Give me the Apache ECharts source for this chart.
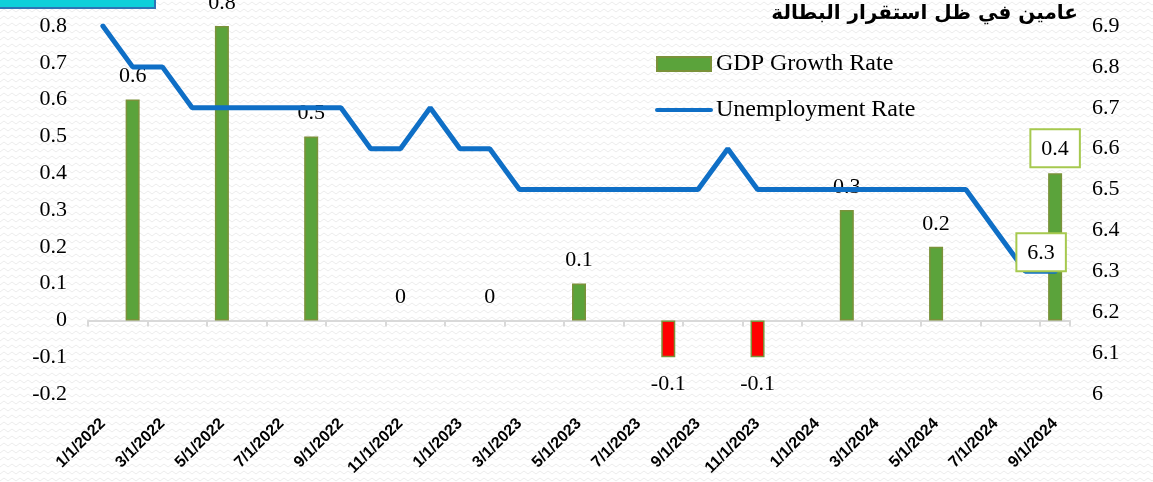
<!DOCTYPE html>
<html>
<head>
<meta charset="utf-8">
<script src="https://cdn.jsdelivr.net/npm/echarts@6/dist/echarts.min.js"></script>
<style>
  html, body { margin: 0; padding: 0; background: #fff; }
  #chart { width: 1153px; height: 482px; }
</style>
</head>
<body>
<div id="chart"></div>
<script>
// monthly categories (Excel date axis, labelled every 2 months)
const months = [
  '1/1/2022', '2/1/2022', '3/1/2022', '4/1/2022', '5/1/2022', '6/1/2022',
  '7/1/2022', '8/1/2022', '9/1/2022', '10/1/2022', '11/1/2022', '12/1/2022',
  '1/1/2023', '2/1/2023', '3/1/2023', '4/1/2023', '5/1/2023', '6/1/2023',
  '7/1/2023', '8/1/2023', '9/1/2023', '10/1/2023', '11/1/2023', '12/1/2023',
  '1/1/2024', '2/1/2024', '3/1/2024', '4/1/2024', '5/1/2024', '6/1/2024',
  '7/1/2024', '8/1/2024', '9/1/2024'
]

// quarterly GDP growth, null where there is no reading
const gdpGrowth = [
  null, 0.6, null, null, 0.8, null, null, 0.5, null, null, 0, null,
  null, 0, null, null, 0.1, null, null, -0.1, null, null, -0.1, null,
  null, 0.3, null, null, 0.2, null, null, null, 0.4
]

const unemployment = [
  6.9, 6.8, 6.8, 6.7, 6.7, 6.7, 6.7, 6.7, 6.7, 6.6, 6.6, 6.7,
  6.6, 6.6, 6.5, 6.5, 6.5, 6.5, 6.5, 6.5, 6.5, 6.6, 6.5, 6.5,
  6.5, 6.5, 6.5, 6.5, 6.5, 6.5, 6.4, 6.3, 6.3
]

const gdpTicks = [-0.2, -0.1, 0, 0.1, 0.2, 0.3, 0.4, 0.5, 0.6, 0.7, 0.8]
const unempTicks = [6, 6.1, 6.2, 6.3, 6.4, 6.5, 6.6, 6.7, 6.8, 6.9]

const title = 'عامين في ظل استقرار البطالة'
const gdpName = 'GDP Growth Rate'
const unempName = 'Unemployment Rate'

const serif = "'Liberation Serif', 'Times New Roman', serif"
const boxGreen = '#a6c94f'
const lineBlue = '#0f6fc6'

// faint zigzag paper texture
const makeTexture = () => {
  const c = document.createElement('canvas')
  c.width = 8
  c.height = 7
  const ctx = c.getContext('2d')
  ctx.fillStyle = '#ffffff'
  ctx.fillRect(0, 0, 8, 7)
  ctx.strokeStyle = '#ececec'
  ctx.lineWidth = 1
  ctx.beginPath()
  ctx.moveTo(0, 5)
  ctx.lineTo(4, 2)
  ctx.lineTo(8, 5)
  ctx.stroke()
  return c
}

const lastIdx = months.length - 1

const boxLabel = {
  color: '#000',
  fontFamily: serif,
  fontSize: 22,
  backgroundColor: '#fff',
  borderColor: boxGreen,
  borderWidth: 2,
  padding: [8, 10, 6, 10]
}

const gdpData = gdpGrowth.map((v, i) => {
  if (v === null) return '-'
  const neg = v < 0
  const item = {
    value: v,
    itemStyle: {
      color: neg ? '#ff0000' : '#5ba33b',
      borderWidth: v === 0 ? 0 : 1.5
    },
    label: { position: neg ? 'bottom' : 'top', distance: neg ? 16 : 12 }
  }
  if (i === lastIdx) {
    item.label = Object.assign({ position: 'top', distance: 7 }, boxLabel)
  }
  return item
})

const chart = echarts.init(document.getElementById('chart'))

const option = {
  backgroundColor: { image: makeTexture(), repeat: 'repeat' },
  animation: false,
  title: {
    text: title,
    right: 75,
    top: 4,
    padding: 0,
    textStyle: {
      fontFamily: "'DejaVu Sans', sans-serif",
      fontWeight: 'bold',
      fontSize: 20,
      color: '#000'
    }
  },
  graphic: [
    {
      type: 'rect',
      shape: { x: -2, y: -30, width: 157, height: 38 },
      style: { fill: '#0ed0da', stroke: '#2e75b6', lineWidth: 2 }
    }
  ],
  legend: {
    orient: 'vertical',
    left: 655,
    top: 52,
    padding: 0,
    itemWidth: 54,
    itemHeight: 14,
    itemGap: 22,
    textStyle: { fontFamily: serif, fontSize: 24, color: '#000' },
    data: [
      { name: gdpName, icon: 'rect' },
      {
        name: unempName,
        itemStyle: { opacity: 0 },
        lineStyle: { width: 4, cap: 'round', color: lineBlue }
      }
    ]
  },
  grid: { left: 88, right: 83, top: 26, bottom: 88 },
  xAxis: [
    {
      type: 'category',
      data: months,
      boundaryGap: true,
      axisLine: { onZero: true, onZeroAxisIndex: 0, lineStyle: { color: '#d9d9d9', width: 2 } },
      axisTick: { show: true, interval: 1, length: 6, lineStyle: { color: '#d9d9d9', width: 2 } },
      axisLabel: { show: false },
      splitLine: { show: false }
    },
    {
      type: 'category',
      data: months,
      position: 'bottom',
      boundaryGap: true,
      axisLine: { show: false, onZero: false },
      axisTick: { show: false },
      axisLabel: {
        interval: 1,
        rotate: 45,
        margin: 27,
        fontFamily: "'Liberation Sans', Arial, sans-serif",
        fontWeight: 'bold',
        fontSize: 16,
        color: '#000'
      },
      splitLine: { show: false }
    }
  ],
  yAxis: [
    {
      type: 'value',
      min: gdpTicks[0],
      max: gdpTicks[gdpTicks.length - 1],
      interval: 0.1,
      axisLine: { show: false },
      axisTick: { show: false },
      splitLine: { show: false },
      axisLabel: { margin: 21, fontFamily: serif, fontSize: 22, color: '#000' }
    },
    {
      type: 'value',
      position: 'right',
      min: unempTicks[0],
      max: unempTicks[unempTicks.length - 1],
      interval: 0.1,
      axisLine: { show: false },
      axisTick: { show: false },
      splitLine: { show: false },
      axisLabel: { margin: 22, fontFamily: serif, fontSize: 22, color: '#000', padding: [3, 0, 0, 0] }
    }
  ],
  series: [
    {
      name: gdpName,
      type: 'bar',
      xAxisIndex: 0,
      yAxisIndex: 0,
      barWidth: 14,
      data: gdpData,
      itemStyle: { color: '#5ba33b', borderColor: '#7b923a', borderWidth: 1.5 },
      label: {
        show: true,
        color: '#000',
        fontFamily: serif,
        fontSize: 22
      },
      z: 2
    },
    {
      name: unempName,
      type: 'line',
      xAxisIndex: 0,
      yAxisIndex: 1,
      data: unemployment,
      symbol: 'none',
      lineStyle: { color: lineBlue, width: 5, cap: 'round' },
      itemStyle: { color: lineBlue },
      markPoint: {
        symbol: 'rect',
        symbolSize: 0,
        silent: true,
        data: [
          {
            coord: [months[lastIdx], unemployment[lastIdx]],
            value: unemployment[lastIdx],
            label: Object.assign({
              show: true,
              position: 'top',
              distance: 1,
              offset: [-14, 0],
              formatter: '{c}'
            }, boxLabel)
          }
        ]
      },
      z: 3
    }
  ]
}

chart.setOption(option)
</script>
</body>
</html>
